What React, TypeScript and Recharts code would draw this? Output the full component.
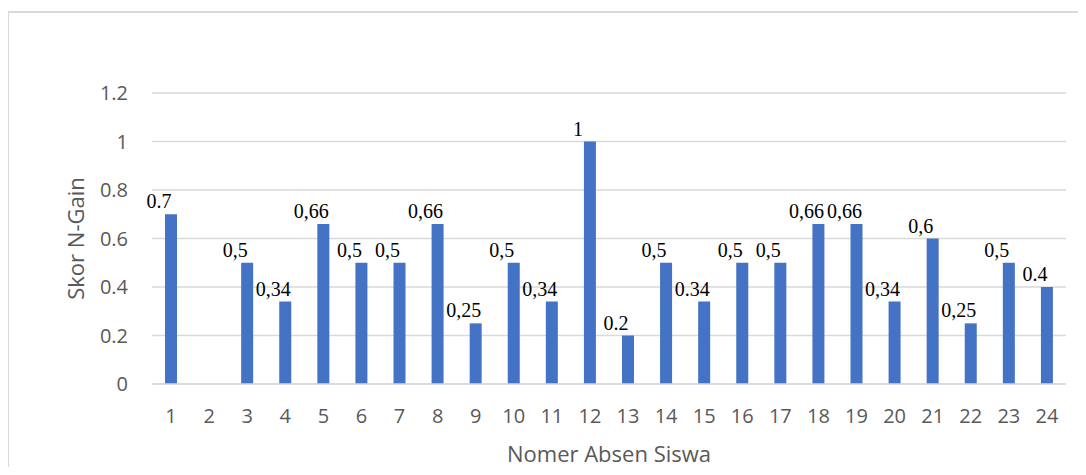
import React from 'react';
import { BarChart, Bar, XAxis, YAxis, CartesianGrid, LabelList } from 'recharts';

const students = ['1', '2', '3', '4', '5', '6', '7', '8', '9', '10', '11', '12', '13', '14', '15', '16', '17', '18', '19', '20', '21', '22', '23', '24'];
const nGain = [0.7, 0, 0.5, 0.34, 0.66, 0.5, 0.5, 0.66, 0.25, 0.5, 0.34, 1, 0.2, 0.5, 0.34, 0.5, 0.5, 0.66, 0.66, 0.34, 0.6, 0.25, 0.5, 0.4];
const gainLabels = ['0.7', '', '0,5', '0,34', '0,66', '0,5', '0,5', '0,66', '0,25', '0,5', '0,34', '1', '0.2', '0,5', '0.34', '0,5', '0,5', '0,66', '0,66', '0,34', '0,6', '0,25', '0,5', '0.4'];
const yTicks = [0, 0.2, 0.4, 0.6, 0.8, 1, 1.2];

const data = students.map((s, i) => ({ no: s, gain: nGain[i], label: gainLabels[i] }));

const axisFont = { fontFamily: '"Open Sans", sans-serif', fill: '#595959' };

// labels were pasted over the bars in the original, a bit left of each bar
const ValueLabel = (props: any) => {
  const { x, y, width, value } = props;
  if (!value) return null;
  return (
    <text x={x + width / 2 - 12} y={y - 6} textAnchor="middle"
      style={{ fontFamily: '"Liberation Serif", "Times New Roman", serif', fontSize: 20, fill: '#000' }}>
      {value}
    </text>
  );
};

export default function App() {
  return (
    <div style={{ position: 'relative', width: 1086, height: 475, margin: -8, overflow: 'hidden', background: '#fff' }}>
      <div style={{ position: 'absolute', left: 20, top: -22, fontFamily: '"Liberation Serif", serif', fontStyle: 'italic', fontSize: 26, color: '#000' }}>y</div>
      <div style={{ position: 'absolute', left: 7, top: 11, width: 1200, height: 600, border: '2px solid #d9d9d9' }} />
      <div style={{ position: 'absolute', left: 0, top: 0 }}>
        <BarChart width={1086} height={475} data={data} margin={{ top: 93, right: 20, bottom: 0, left: 40 }}>
          <CartesianGrid vertical={false} stroke="#d9d9d9" strokeWidth={1.5} />
          <XAxis dataKey="no" height={91} tickLine={false} axisLine={{ stroke: '#d9d9d9', strokeWidth: 1.5 }}
            tickMargin={19} interval={0} tick={{ ...axisFont, fontSize: 20 }}
            label={{ value: 'Nomer Absen Siswa', position: 'insideBottom', offset: 13, style: { ...axisFont, fontSize: 22 } }} />
          <YAxis width={112} domain={[0, 1.2]} ticks={yTicks} tickLine={false} axisLine={false}
            tickMargin={18} tick={{ ...axisFont, fontSize: 20 }} tickFormatter={(v: number) => String(v)}
            label={{ value: 'Skor N-Gain', angle: -90, position: 'insideLeft', offset: 36, style: { ...axisFont, fontSize: 22, textAnchor: 'middle' } }} />
          <Bar dataKey="gain" fill="#4472C4" barSize={12} isAnimationActive={false}>
            <LabelList dataKey="label" content={<ValueLabel />} />
          </Bar>
        </BarChart>
      </div>
    </div>
  );
}
